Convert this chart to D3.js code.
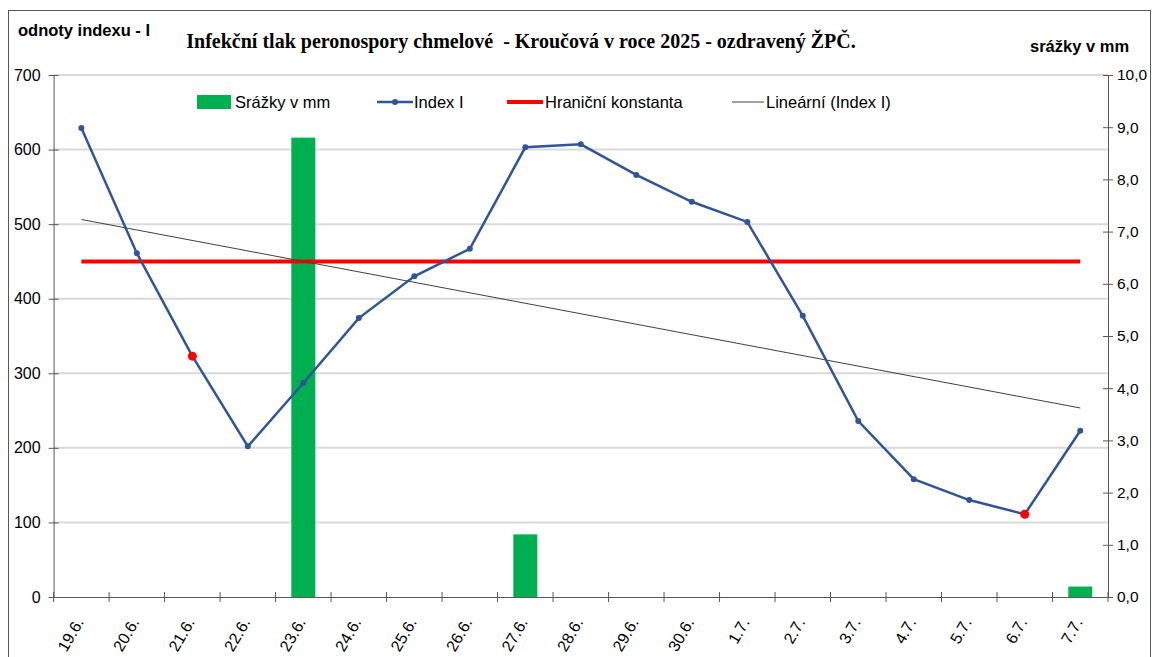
<!DOCTYPE html>
<html>
<head>
<meta charset="utf-8">
<script src="https://cdn.jsdelivr.net/npm/d3@7"></script>
<style>
  body { margin: 0; background: #fff; }
  text { font-family: "Liberation Sans", Arial, sans-serif; fill: #000; }
</style>
</head>
<body>
<div id="chart"></div>
<script>
const days = ['19.6.', '20.6.', '21.6.', '22.6.', '23.6.', '24.6.', '25.6.', '26.6.', '27.6.', '28.6.',
  '29.6.', '30.6.', '1.7.', '2.7.', '3.7.', '4.7.', '5.7.', '6.7.', '7.7.'];
const indexI = [629, 461, 323, 202, 287, 374, 430, 467, 603, 607, 566, 530, 503, 377, 236, 158, 130, 111, 223];
const rain = [0, 0, 0, 0, 8.8, 0, 0, 0, 1.2, 0, 0, 0, 0, 0, 0, 0, 0, 0, 0.2];
const limit = 450;
const redDays = ['21.6.', '6.7.'];
const leftTicks = [0, 100, 200, 300, 400, 500, 600, 700];
const rightTicks = [0, 1, 2, 3, 4, 5, 6, 7, 8, 9, 10];

const width = 1158;
const height = 657;
const margin = {left: 53.6, right: 50, top: 75, bottom: 60};
const innerWidth = width - margin.left - margin.right;
const innerHeight = 597 - margin.top;

const svg = d3.select('#chart').append('svg')
  .attr('width', width)
  .attr('height', height);

svg.append('rect')
  .attr('x', 8.5).attr('y', 10.5)
  .attr('width', 1142).attr('height', 660)
  .attr('fill', 'none')
  .attr('stroke', '#595959');

const g = svg.append('g')
  .attr('transform', `translate(${margin.left},${margin.top})`);

const xScale = d3.scaleBand().domain(days).range([0, innerWidth]);
const yScale = d3.scaleLinear().domain([0, 700]).range([innerHeight, 0]);
const y2Scale = d3.scaleLinear().domain([0, 10]).range([innerHeight, 0]);
const cx = d => xScale(d) + xScale.bandwidth() / 2;

// gridlines
g.selectAll('.grid').data(leftTicks.slice(1))
  .enter().append('line')
  .attr('x1', 0).attr('x2', innerWidth)
  .attr('y1', d => yScale(d)).attr('y2', d => yScale(d))
  .attr('stroke', '#d9d9d9')
  .attr('stroke-width', 2);

// rain bars
g.selectAll('.bar').data(days.map((d, i) => ({day: d, v: rain[i]})).filter(d => d.v > 0))
  .enter().append('rect')
  .attr('x', d => cx(d.day) - 12)
  .attr('width', 24)
  .attr('y', d => y2Scale(d.v))
  .attr('height', d => innerHeight - y2Scale(d.v))
  .attr('fill', '#00b050');

// axes
const yAxis = d3.axisLeft(yScale).tickValues(leftTicks).tickSize(0).tickPadding(13);
const yAxisG = g.append('g').call(yAxis);
const y2Axis = d3.axisRight(y2Scale).tickValues(rightTicks).tickSize(0).tickPadding(9)
  .tickFormat(d => d3.format('.1f')(d).replace('.', ','));
const y2AxisG = g.append('g').attr('transform', `translate(${innerWidth},0)`).call(y2Axis);
const xAxisG = g.append('g').attr('transform', `translate(0,${innerHeight})`)
  .call(d3.axisBottom(xScale).tickSize(0).tickPadding(0));

[yAxisG, y2AxisG, xAxisG].forEach(a => {
  a.select('.domain').attr('stroke', '#595959');
  a.selectAll('text').style('font-size', '16px').style('font-family', '"Liberation Sans", Arial, sans-serif');
});
y2AxisG.selectAll('text').style('font-size', '15.5px');

// crossing ticks
yAxisG.selectAll('.tick').append('line').attr('x1', -5).attr('x2', 5).attr('stroke', '#595959');
y2AxisG.selectAll('.tick').append('line').attr('x1', -5).attr('x2', 5).attr('stroke', '#595959');
xAxisG.selectAll('.tk').data(d3.range(days.length + 1))
  .enter().append('line')
  .attr('x1', i => i * xScale.step()).attr('x2', i => i * xScale.step())
  .attr('y1', -5).attr('y2', 5)
  .attr('stroke', '#595959');

xAxisG.selectAll('.tick text')
  .style('font-size', '16px')
  .attr('text-anchor', 'end')
  .attr('dy', null)
  .attr('transform', 'translate(3,25) rotate(-60)');

// limit line
g.append('line')
  .attr('x1', cx(days[0])).attr('x2', cx(days[days.length - 1]))
  .attr('y1', yScale(limit)).attr('y2', yScale(limit))
  .attr('stroke', '#ff0000')
  .attr('stroke-width', 4);

// linear trend of Index I
const n = indexI.length;
const mx = d3.mean(d3.range(n));
const my = d3.mean(indexI);
const slope = d3.sum(indexI, (v, i) => (i - mx) * (v - my)) / d3.sum(d3.range(n), i => (i - mx) * (i - mx));
const icpt = my - slope * mx;
g.append('line')
  .attr('x1', cx(days[0])).attr('x2', cx(days[n - 1]))
  .attr('y1', yScale(icpt)).attr('y2', yScale(icpt + slope * (n - 1)))
  .attr('stroke', '#404040')
  .attr('stroke-width', 1);

// Index I line
const line = d3.line().x((d, i) => cx(days[i])).y(d => yScale(d));
g.append('path').datum(indexI)
  .attr('d', line)
  .attr('fill', 'none')
  .attr('stroke', '#2f5597')
  .attr('stroke-width', 2.5);

g.selectAll('.pt').data(indexI)
  .enter().append('circle')
  .attr('cx', (d, i) => cx(days[i]))
  .attr('cy', d => yScale(d))
  .attr('r', (d, i) => redDays.includes(days[i]) ? 4.5 : 3)
  .attr('fill', (d, i) => redDays.includes(days[i]) ? '#ff0000' : '#2f5597');

// titles
svg.append('text')
  .attr('x', 521).attr('y', 48)
  .attr('text-anchor', 'middle')
  .attr('xml:space', 'preserve')
  .style('white-space', 'pre')
  .style('font-family', '"Liberation Serif", "Times New Roman", serif')
  .style('font-weight', 'bold')
  .style('font-size', '20px')
  .text('Infekční tlak peronospory chmelové  - Kroučová v roce 2025 - ozdravený ŽPČ.');

svg.append('text')
  .attr('x', 18).attr('y', 36)
  .style('font-weight', 'bold')
  .style('font-size', '16.5px')
  .text('odnoty indexu - I');

svg.append('text')
  .attr('x', 1030).attr('y', 52)
  .style('font-weight', 'bold')
  .style('font-size', '16.5px')
  .text('srážky v mm');

// legend
const legend = svg.append('g').attr('transform', 'translate(0,102)');
const lfont = '16.5px';
legend.append('rect').attr('x', 197).attr('y', -7).attr('width', 34).attr('height', 14).attr('fill', '#00b050');
legend.append('text').attr('x', 235).attr('y', 6).style('font-size', lfont).text('Srážky v mm');
legend.append('line').attr('x1', 377).attr('x2', 413).attr('stroke', '#2f5597').attr('stroke-width', 2.5);
legend.append('circle').attr('cx', 395).attr('r', 3).attr('fill', '#2f5597');
legend.append('text').attr('x', 414).attr('y', 6).style('font-size', lfont).text('Index I');
legend.append('line').attr('x1', 507).attr('x2', 543).attr('stroke', '#ff0000').attr('stroke-width', 4);
legend.append('text').attr('x', 545).attr('y', 6).style('font-size', lfont).text('Hraniční konstanta');
legend.append('line').attr('x1', 732).attr('x2', 764).attr('stroke', '#404040').attr('stroke-width', 1);
legend.append('text').attr('x', 766).attr('y', 6).style('font-size', lfont).text('Lineární (Index I)');
</script>
</body>
</html>
